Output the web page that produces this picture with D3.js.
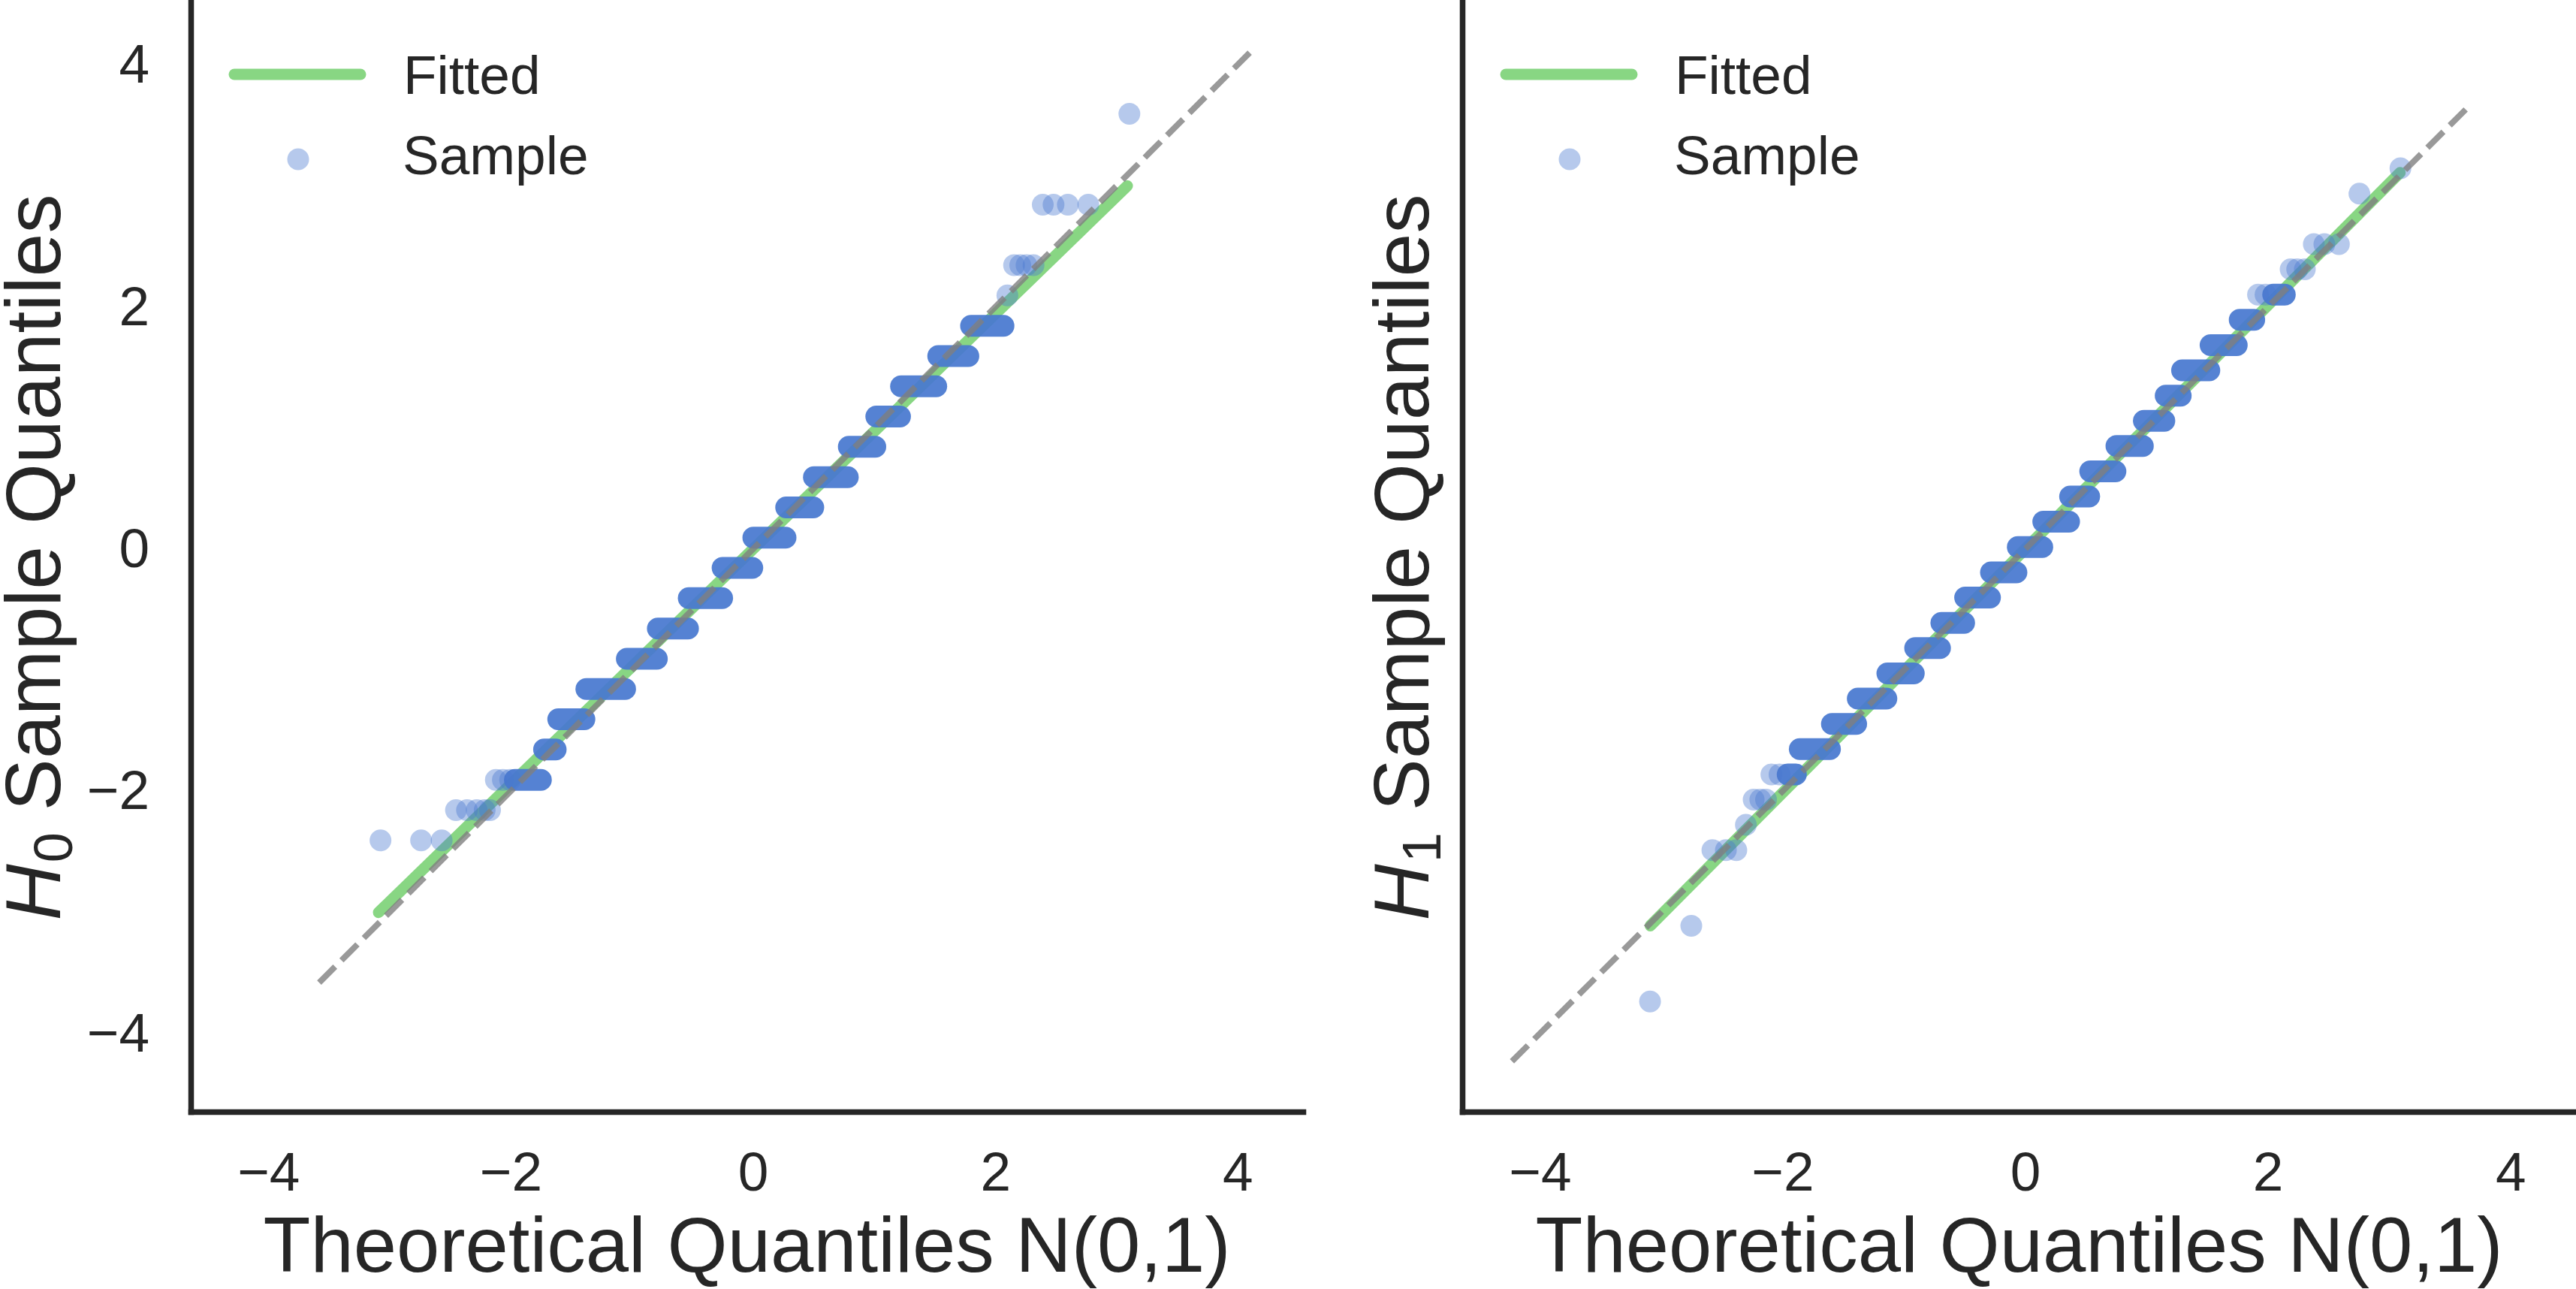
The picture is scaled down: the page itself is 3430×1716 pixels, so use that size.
<!DOCTYPE html>
<html>
<head>
<meta charset="utf-8">
<script src="https://cdn.jsdelivr.net/npm/d3@7"></script>
<style>
    body{margin:0;background:#fff;}
    text{font-family:"Liberation Sans", Arial, sans-serif;fill:#262626;}
</style>
</head>
<body>
<script>
(function(){

    //tick values shared by every axis
    var tickValues = [-4, -2, 0, 2, 4];

    //H0 panel: quantised sample levels where points pile into solid runs
    var h0RunY  = [-1.905, -1.655, -1.405, -1.155, -0.905, -0.655, -0.405, -0.155, 0.095, 0.345, 0.595, 0.845, 1.095, 1.345, 1.595, 1.845];
    var h0RunX0 = [-1.965, -1.724, -1.607, -1.375, -1.041, -0.785, -0.530, -0.251, 0.003, 0.274, 0.503, 0.791, 1.018, 1.222, 1.529, 1.800];
    var h0RunX1 = [-1.750, -1.628, -1.391, -1.055, -0.793, -0.536, -0.254, -0.005, 0.269, 0.498, 0.783, 1.010, 1.214, 1.513, 1.778, 2.068];
    //H0 panel: single points in the tails
    var h0PointX = [-3.074, -2.739, -2.569, -2.451, -2.360, -2.280, -2.214, -2.170, -2.122, -2.064, -2.004, 2.100, 2.155, 2.206, 2.258, 2.316, 2.392, 2.481, 2.599, 2.768, 3.107];
    var h0PointY = [-2.405, -2.405, -2.405, -2.155, -2.155, -2.155, -2.155, -2.155, -1.905, -1.905, -1.905, 2.095, 2.345, 2.345, 2.345, 2.345, 2.845, 2.845, 2.845, 2.845, 3.595];
    //H0 panel: fitted line and 45 degree reference
    var h0FitX = [-3.09, 3.09], h0FitY = [-3.00, 3.00];
    var h0Ref = [-3.58, 4.10];

    //H1 panel
    var h1RunY  = [-1.860, -1.651, -1.443, -1.234, -1.026, -0.817, -0.609, -0.400, -0.192, 0.017, 0.226, 0.434, 0.643, 0.851, 1.060, 1.268, 1.477, 1.685, 1.894, 2.102];
    var h1RunX0 = [-1.958, -1.858, -1.593, -1.380, -1.136, -0.907, -0.691, -0.495, -0.282, -0.061, 0.149, 0.370, 0.536, 0.752, 0.978, 1.158, 1.293, 1.528, 1.768, 2.044];
    var h1RunX1 = [-1.890, -1.609, -1.393, -1.144, -0.918, -0.702, -0.503, -0.290, -0.072, 0.141, 0.362, 0.528, 0.744, 0.970, 1.147, 1.282, 1.518, 1.744, 1.888, 2.140];
    var h1PointX = [-3.092, -2.752, -2.578, -2.467, -2.381, -2.302, -2.238, -2.183, -2.136, -2.092, -2.025, 1.919, 1.981, 2.188, 2.242, 2.305, 2.379, 2.466, 2.586, 2.755, 3.093];
    var h1PointY = [-3.736, -3.111, -2.485, -2.485, -2.485, -2.277, -2.069, -2.069, -2.069, -1.860, -1.860, 2.102, 2.102, 2.311, 2.311, 2.311, 2.519, 2.519, 2.519, 2.936, 3.145];
    var h1FitX = [-3.09, 3.09], h1FitY = [-3.11, 3.11];
    var h1Ref = [-4.23, 3.64];

    var xDomain = [-4.64, 4.54],
        yDomain = [-4.646, 4.535];

    //colours
    var blue = "#4878D0",
        green = "#6ACC64",
        ink = "#262626";

    var width = 3430,
        height = 1716,
        axisBottomY = 1480;

    var svg = d3.select("body")
        .append("svg")
        .attr("width", width)
        .attr("height", height);

    var y = d3.scaleLinear()
        .domain(yDomain)
        .range([axisBottomY, 0]);

    var panels = [
        {sub: "0", left: 254, right: 1735, labelX: 80, showTicks: true,
            runY: h0RunY, runX0: h0RunX0, runX1: h0RunX1, ptX: h0PointX, ptY: h0PointY,
            fitX: h0FitX, fitY: h0FitY, ref: h0Ref},
        {sub: "1", left: 1947, right: 3430, labelX: 1902, showTicks: false,
            runY: h1RunY, runX0: h1RunX0, runX1: h1RunX1, ptX: h1PointX, ptY: h1PointY,
            fitX: h1FitX, fitY: h1FitY, ref: h1Ref}
    ];

    panels.forEach(function(p){
        drawPanel(p);
    });

    function fmt(d){
        return d < 0 ? "\u2212" + Math.abs(d) : String(d);
    };

    function drawPanel(p){

        var x = d3.scaleLinear()
            .domain(xDomain)
            .range([p.left, p.right]);

        var g = svg.append("g");

        //fitted line sits under the sample points
        g.append("line")
            .attr("x1", x(p.fitX[0]))
            .attr("y1", y(p.fitY[0]))
            .attr("x2", x(p.fitX[1]))
            .attr("y2", y(p.fitY[1]))
            .attr("stroke", green)
            .attr("stroke-opacity", 0.8)
            .attr("stroke-width", 15)
            .attr("stroke-linecap", "round");

        //runs of overlapping points
        var runs = d3.range(p.runY.length);
        g.selectAll(".run")
            .data(runs)
            .enter()
            .append("line")
            .attr("class", "run")
            .attr("x1", function(i){ return x(p.runX0[i]); })
            .attr("x2", function(i){ return x(p.runX1[i]); })
            .attr("y1", function(i){ return y(p.runY[i]); })
            .attr("y2", function(i){ return y(p.runY[i]); })
            .attr("stroke", blue)
            .attr("stroke-opacity", 0.93)
            .attr("stroke-width", 29)
            .attr("stroke-linecap", "round");

        //single points
        g.selectAll(".pt")
            .data(d3.range(p.ptX.length))
            .enter()
            .append("circle")
            .attr("class", "pt")
            .attr("cx", function(i){ return x(p.ptX[i]); })
            .attr("cy", function(i){ return y(p.ptY[i]); })
            .attr("r", 14.5)
            .attr("fill", blue)
            .attr("fill-opacity", 0.4);

        //45 degree reference line on top
        g.append("line")
            .attr("x1", x(p.ref[0]))
            .attr("y1", y(p.ref[0]))
            .attr("x2", x(p.ref[1]))
            .attr("y2", y(p.ref[1]))
            .attr("stroke", "#808080")
            .attr("stroke-opacity", 0.8)
            .attr("stroke-width", 8)
            .attr("stroke-dasharray", "30,12");

        //x axis
        var xAxis = d3.axisBottom(x)
            .tickValues(tickValues)
            .tickFormat(fmt)
            .tickSize(0)
            .tickSizeOuter(0)
            .tickPadding(53);

        var gx = svg.append("g")
            .attr("transform", "translate(0," + axisBottomY + ")")
            .call(xAxis);
        gx.select(".domain")
            .attr("stroke", ink)
            .attr("stroke-width", 7.5)
            .attr("stroke-linecap", "square");
        gx.selectAll("text")
            .attr("fill", ink)
            .style("font-size", "73px");

        //y axis
        var yAxis = d3.axisLeft(y)
            .tickValues(tickValues)
            .tickFormat(p.showTicks ? fmt : function(){ return ""; })
            .tickSize(0)
            .tickSizeOuter(0)
            .tickPadding(55);

        var gy = svg.append("g")
            .attr("transform", "translate(" + p.left + ",0)")
            .call(yAxis);
        gy.select(".domain")
            .attr("stroke", ink)
            .attr("stroke-width", 7.5)
            .attr("stroke-linecap", "square");
        gy.selectAll("text")
            .attr("fill", ink)
            .style("font-size", "73px");

        //axis titles
        svg.append("text")
            .attr("x", (p.left + p.right) / 2)
            .attr("y", 1693)
            .attr("text-anchor", "middle")
            .style("font-size", "103px")
            .text("Theoretical Quantiles N(0,1)");

        var yl = svg.append("text")
            .attr("transform", "translate(" + p.labelX + "," + (axisBottomY / 2 + 2) + ") rotate(-90)")
            .attr("text-anchor", "middle")
            .style("font-size", "104px");
        yl.append("tspan")
            .style("font-style", "italic")
            .text("H");
        yl.append("tspan")
            .attr("dx", 2)
            .attr("dy", 16)
            .style("font-size", "72px")
            .text(p.sub);
        yl.append("tspan")
            .attr("dy", -16)
            .text(" Sample Quantiles");

        //legend
        var lg = svg.append("g")
            .attr("transform", "translate(" + p.left + ",0)");
        lg.append("line")
            .attr("x1", 58)
            .attr("x2", 226)
            .attr("y1", 99)
            .attr("y2", 99)
            .attr("stroke", green)
            .attr("stroke-opacity", 0.8)
            .attr("stroke-width", 15)
            .attr("stroke-linecap", "round");
        lg.append("circle")
            .attr("cx", 143)
            .attr("cy", 212)
            .attr("r", 14.5)
            .attr("fill", blue)
            .attr("fill-opacity", 0.4);
        lg.append("text")
            .attr("x", 283)
            .attr("y", 125)
            .style("font-size", "73px")
            .text("Fitted");
        lg.append("text")
            .attr("x", 282)
            .attr("y", 232)
            .style("font-size", "73px")
            .text("Sample");
    };
})();
</script>
</body>
</html>
